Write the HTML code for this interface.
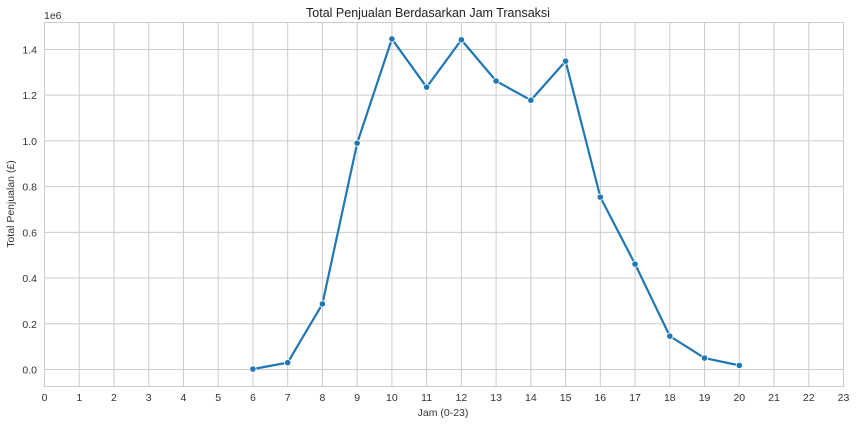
<!DOCTYPE html>
<html><head><meta charset="utf-8"><style>
body{margin:0;background:#fff;font-family:"Liberation Sans","DejaVu Sans",sans-serif}
svg text{fill:#333;font-size:10.5px}
</style></head><body>
<svg id="chart" width="856" height="424">
<rect x="44.5" y="22.5" width="799" height="364" fill="#fff" stroke="#ccc"/>
<g id="grid"></g><g id="ticks"></g>
<text x="428" y="17" text-anchor="middle" style="font-size:12.5px;fill:#222">Total Penjualan Berdasarkan Jam Transaksi</text>
<text x="44" y="19" style="font-size:10.5px">1e6</text>
<text x="443" y="416" text-anchor="middle">Jam (0-23)</text>
<text transform="translate(14,204) rotate(-90)" text-anchor="middle">Total Penjualan (£)</text>
<g id="series"></g>
</svg>
<script>
const hours=[6,7,8,9,10,11,12,13,14,15,16,17,18,19,20];
const sales=[0.002,0.03,0.287,0.99,1.446,1.235,1.442,1.262,1.178,1.349,0.754,0.461,0.146,0.05,0.018];
const yTicks=[0,0.2,0.4,0.6,0.8,1.0,1.2,1.4];
const xTicks=[...Array(24).keys()];
const NS="http://www.w3.org/2000/svg";
const x=h=>44.5+h*(799/23);
const y=v=>369.5-v*228.6;
const grid=document.getElementById('grid'),ticks=document.getElementById('ticks'),ser=document.getElementById('series');
function mk(t,a,p){const e=document.createElementNS(NS,t);for(const k in a)e.setAttribute(k,a[k]);p.appendChild(e);return e;}
xTicks.forEach(h=>{
 const l=mk('line',{x1:x(h),x2:x(h),y1:22.5,y2:386.5,stroke:'#ccc'},grid);
 
 
 const t=mk('text',{x:x(h),y:401,'text-anchor':'middle'},ticks);t.textContent=h;
 
 
});
yTicks.forEach(v=>{
 const l=mk('line',{x1:44.5,x2:843.5,y1:y(v),y2:y(v),stroke:'#ccc'},grid);
 
 
 const t=mk('text',{x:37,y:y(v)+4,'text-anchor':'end'},ticks);t.textContent=v.toFixed(1);
 
 
});
const pl=mk('polyline',{points:hours.map((h,i)=>x(h)+','+y(sales[i])).join(' '),fill:'none',stroke:'#1f77b4','stroke-width':2.2,'stroke-linejoin':'round'},ser);


hours.forEach((h,i)=>{
 const c=mk('circle',{cx:x(h),cy:y(sales[i]),r:3.2,fill:'#1f77b4',stroke:'#fff','stroke-width':0.8},ser);
 
 
});
</script>
</body></html>
